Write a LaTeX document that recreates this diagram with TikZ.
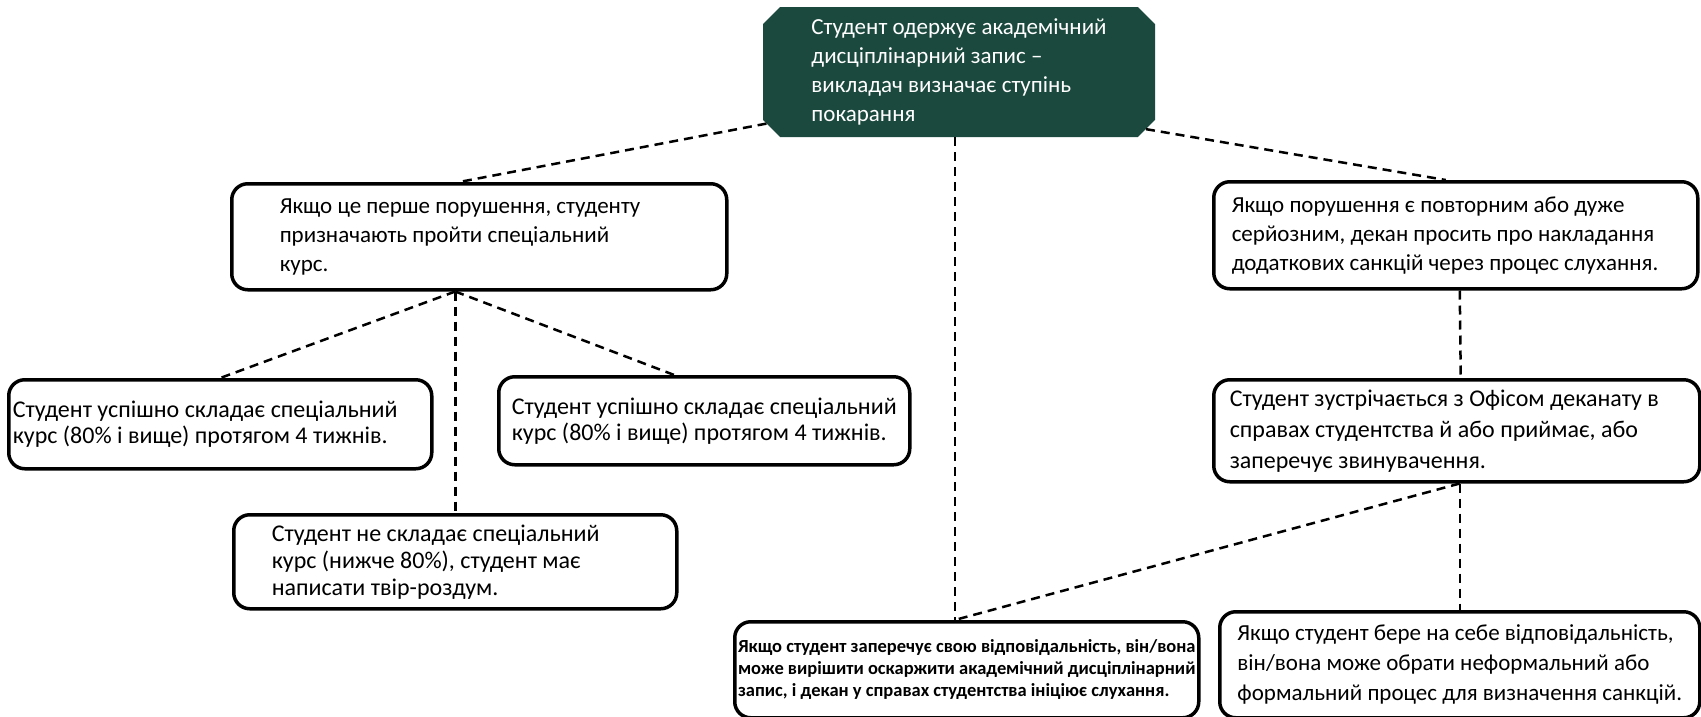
\documentclass[tikz,border=0pt]{standalone}
\usepackage{fontspec}
\setmainfont{Carlito}
\usetikzlibrary{shapes.misc}

\definecolor{headgreen}{RGB}{27,73,61}

\begin{document}
\begin{tikzpicture}[x=1pt,y=-1pt]

    \tikzset{boxstyle/.style={draw,line width=3.5pt,rounded corners=16pt,align=flush left,anchor=north west,inner xsep=2pt,inner ysep=0pt,font=\fontsize{23}{29}\selectfont}}
    \tikzset{headstyle/.style={chamfered rectangle,chamfered rectangle xsep=14pt,fill=headgreen,text=white,align=left,inner sep=0pt,font=\fontsize{23}{29}\selectfont}}

    \useasboundingbox (0,0) rectangle (1701,716);

    \node[headstyle,minimum width=392pt,minimum height=130pt] (head) at (959,72) {Студент одержує академічний\\дисціплінарний запис –\\викладач визначає ступінь\\покарання};

    \node[boxstyle,minimum width=495pt,minimum height=106pt,text width=399pt,inner xsep=48pt] (first) at (230,182) {Якщо це перше порушення, студенту\\призначають пройти спеціальний\\курс.};
    \node[boxstyle,minimum width=484pt,minimum height=107pt,text width=448pt,inner xsep=18pt] (repeat) at (1212,180) {Якщо порушення є повторним або дуже\\серйозним, декан просить про накладання\\додаткових санкцій через процес слухання.};

    \node[boxstyle,minimum width=423pt,minimum height=89pt,text width=415pt,inner xsep=4pt,font=\fontsize{24}{26}\selectfont] (passL) at (7,378) {Студент успішно складає спеціальний\\курс (80\% і вище) протягом 4 тижнів.};
    \node[boxstyle,minimum width=411pt,minimum height=88pt,font=\fontsize{24}{26}\selectfont] (passR) at (497,375) {Студент успішно складає спеціальний\\курс (80\% і вище) протягом 4 тижнів.};
    \node[boxstyle,minimum width=443pt,minimum height=94pt,text width=367pt,inner xsep=38pt,font=\fontsize{24}{27}\selectfont] (fail) at (232,513) {Студент не складає спеціальний\\курс (нижче 80\%), студент має\\написати твір-роздум.};

    \node[boxstyle,minimum width=486pt,minimum height=102pt,text width=454pt,inner xsep=16pt,font=\fontsize{24}{31}\selectfont] (meet) at (1212,378) {Студент зустрічається з Офісом деканату в\\справах студентства й або приймає, або\\заперечує звинувачення.};
    \node[boxstyle,minimum width=464pt,minimum height=96pt,font=\fontsize{18.5}{22}\selectfont\bfseries] (deny) at (733,620) {Якщо студент заперечує свою відповідальність, він/вона\\може вирішити оскаржити академічний дисціплінарний\\запис, і декан у справах студентства ініціює слухання.};
    \node[boxstyle,minimum width=480pt,minimum height=106pt,font=\fontsize{23}{30}\selectfont] (accept) at (1218,610) {Якщо студент бере на себе відповідальність,\\він/вона може обрати неформальний або\\формальний процес для визначення санкцій.};

    \begin{scope}[every path/.style={line width=2.5pt,dash pattern=on 9pt off 6pt}]
        \coordinate (split) at (fail.north |- first.south);
        \draw (head.195) -- ([xshift=-20pt]first.north);
        \draw (head.343) -- ([xshift=-10pt]repeat.north);
        \draw ([xshift=-12pt]deny.north |- head.south) -- ([xshift=-12pt]deny.north);
        \draw (split) -- (passL.north);
        \draw (split) -- (fail.north);
        \draw (split) -- ([xshift=-30pt]passR.north);
        \draw ([xshift=4pt]repeat.south) -- ([xshift=4pt]meet.north);
        \draw (accept.north |- meet.south) -- ([xshift=-12pt]deny.north);
        \draw (accept.north |- meet.south) -- (accept.north);
    \end{scope}
\end{tikzpicture}
\end{document}
